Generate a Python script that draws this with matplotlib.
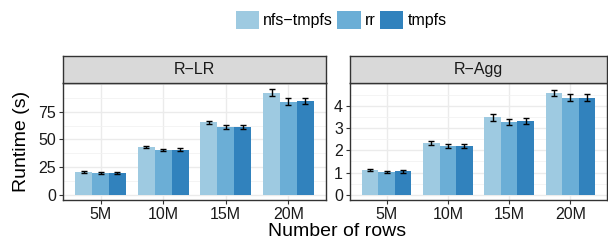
import numpy as np
import matplotlib.pyplot as plt
from matplotlib.patches import Patch
from matplotlib.ticker import MultipleLocator

plt.rcParams['font.family'] = ['Liberation Sans', 'DejaVu Sans']

# data
rows = ['5M', '10M', '15M', '20M']
series = ['nfs\u2212tmpfs', 'rr', 'tmpfs']
colors = ['#9ECAE1', '#6BAED6', '#3182BD']

lr_mean = [[20.4, 43.2, 65.5, 92.4],
           [19.4, 40.6, 61.2, 84.2],
           [19.6, 40.7, 61.3, 84.6]]
lr_err = [[0.8, 1.2, 1.5, 2.8],
          [0.7, 1.0, 1.6, 3.0],
          [0.7, 1.1, 1.5, 2.5]]
agg_mean = [[1.10, 2.32, 3.48, 4.58],
            [1.04, 2.18, 3.27, 4.36],
            [1.05, 2.20, 3.31, 4.36]]
agg_err = [[0.05, 0.09, 0.15, 0.14],
           [0.04, 0.09, 0.15, 0.15],
           [0.05, 0.09, 0.15, 0.15]]
lr_ticks = [0, 25, 50, 75]
agg_ticks = [0, 1, 2, 3, 4]

panels = [('R\u2212LR', lr_mean, lr_err, (-4.8, 101), lr_ticks, 12.5),
          ('R\u2212Agg', agg_mean, agg_err, (-0.23, 5.02), agg_ticks, 0.5)]

fig = plt.figure(figsize=(6.08, 2.44), dpi=100)
W, H = 608, 244
boxes = [(63, 326), (350, 607)]
top, bot, strip_top = 83, 200, 56

edge = '#333333'
x = np.arange(1, len(rows) + 1)
bw = 0.27

for (title, mean, err, ylim, ticks, minor), (l, r) in zip(panels, boxes):
    ax = fig.add_axes([l / W, (H - bot) / H, (r - l) / W, (bot - top) / H])
    ax.set_axisbelow(True)
    for i in range(3):
        pos = x + (i - 1) * bw
        ax.bar(pos, mean[i], width=bw, color=colors[i], zorder=2)
        ax.errorbar(pos, mean[i], yerr=err[i], fmt='none', ecolor='black',
                    elinewidth=1.0, capsize=2.2, capthick=1.0, zorder=3)
    ax.set_xlim(0.4, 4.6)
    ax.set_ylim(*ylim)
    ax.set_xticks(x)
    ax.set_xticklabels(rows)
    ax.set_yticks(ticks)
    ax.yaxis.set_minor_locator(MultipleLocator(minor))
    ax.grid(which='major', color='#EBEBEB', lw=1.0)
    ax.grid(which='minor', axis='y', color='#F2F2F2', lw=0.6)
    ax.tick_params(which='minor', length=0)
    ax.tick_params(which='major', length=3, width=0.8, color=edge,
                   labelsize=11.5, labelcolor='#1A1A1A', pad=2)
    for s in ax.spines.values():
        s.set_color(edge)
        s.set_linewidth(1.0)

    st = fig.add_axes([l / W, (H - top) / H, (r - l) / W, (top - strip_top) / H])
    st.set_facecolor('#D9D9D9')
    st.set_xticks([])
    st.set_yticks([])
    for s in st.spines.values():
        s.set_color(edge)
        s.set_linewidth(1.0)
    st.text(0.5, 0.5, title, ha='center', va='center', fontsize=11.5,
            color='#1A1A1A', transform=st.transAxes)

fig.text(21 / W, (H - (top + bot) / 2) / H, 'Runtime (s)', rotation=90,
         ha='center', va='center', fontsize=14)
fig.text(337 / W, (H - 231) / H, 'Number of rows', ha='center', va='center',
         fontsize=14)

handles = [Patch(facecolor=c, edgecolor='none') for c in colors]
fig.legend(handles, series, loc='center', bbox_to_anchor=(341 / W, (H - 20) / H),
           ncol=3, frameon=False, fontsize=11.5, handlelength=1.45,
           handleheight=1.45, handletextpad=0.25, columnspacing=0.3,
           borderpad=0)

fig.savefig('out.png', dpi=100)
